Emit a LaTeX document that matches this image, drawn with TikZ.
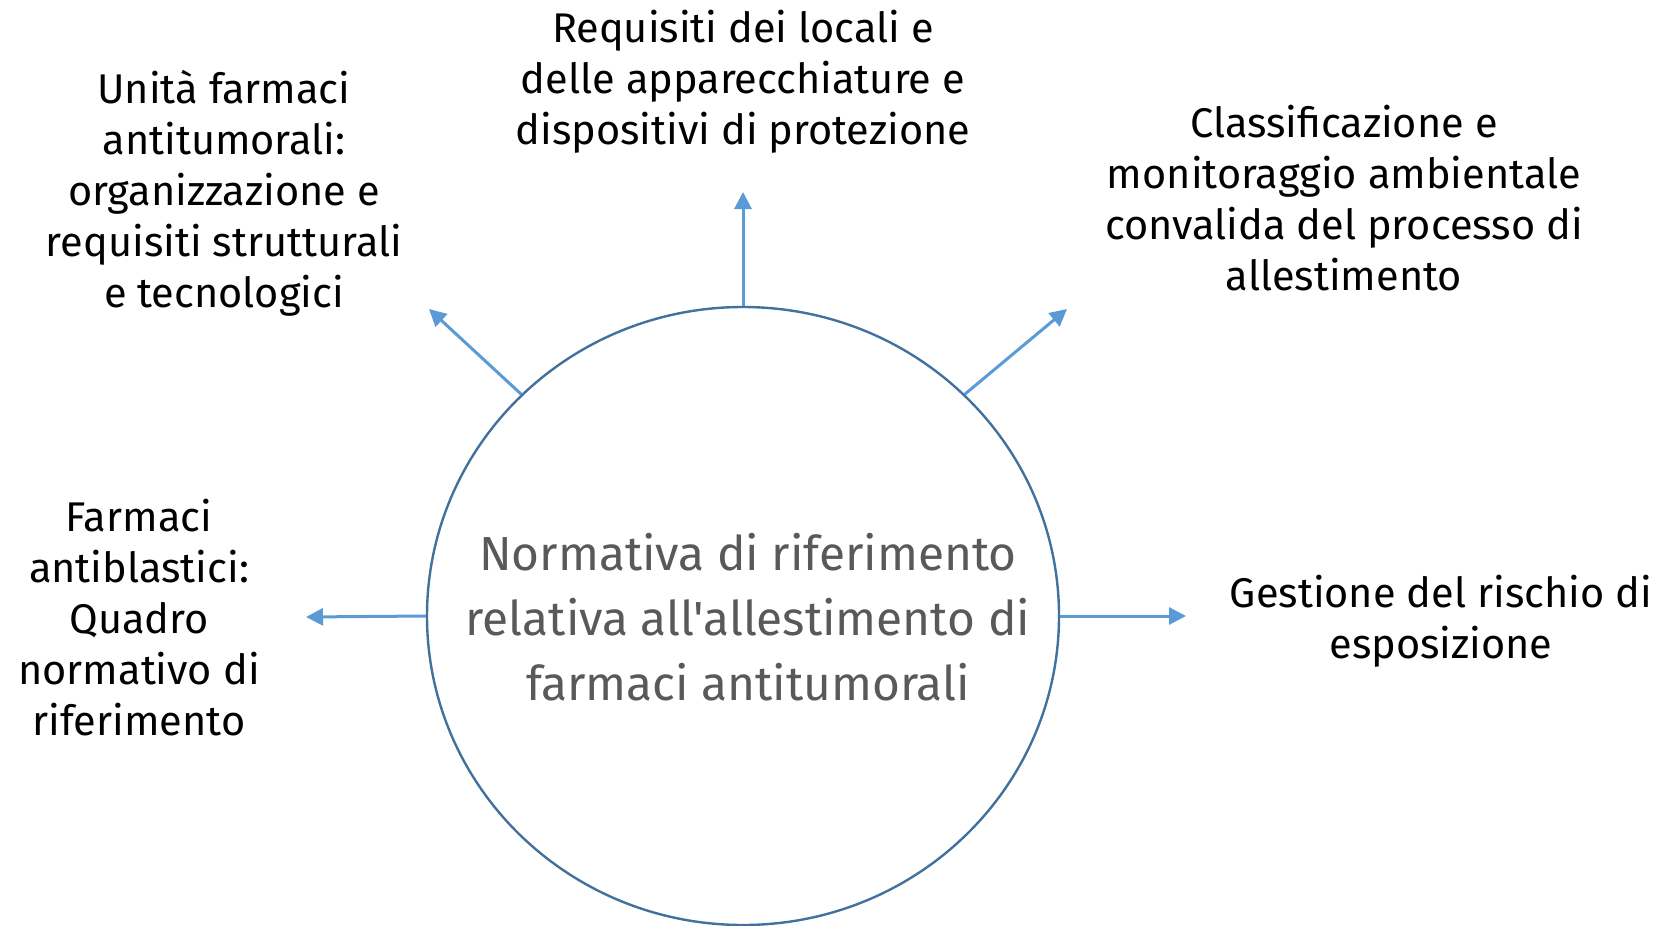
\documentclass[tikz,border=0pt]{standalone}
\usepackage{fontspec}
\setmainfont{Fira Sans}[Ligatures=TeXOff]
\usetikzlibrary{shapes.geometric,arrows.meta}
\definecolor{ringblue}{HTML}{41719C}
\definecolor{arrowblue}{HTML}{5B9BD5}
\definecolor{textgray}{HTML}{595959}
\tikzset{
 topic/.style={align=center,inner sep=0pt,font=\fontsize{41.5}{51}\selectfont},
 link/.style={arrowblue,line width=3pt,-{Triangle[length=17pt,width=17pt]}}
}
\begin{document}
\begin{tikzpicture}[x=1pt,y=-1pt]
\useasboundingbox (0,0) rectangle (1665,926);
\node[ellipse,draw=ringblue,line width=2.4pt,minimum width=632pt,minimum height=618pt,inner sep=0pt] (main) at (743,616) {};
\node[align=center,text=textgray,font=\fontsize{47.8}{65}\selectfont] (title) at (748,617)
 {Normativa di riferimento\\relativa all'allestimento di\\farmaci antitumorali};
% topics round the ring
\node[topic] (locali) at (743,82) {Requisiti dei locali e\\delle apparecchiature e\\dispositivi di protezione};
\node[topic] (unita) at (224,193) {Unità farmaci\\antitumorali:\\organizzazione e\\requisiti strutturali\\e tecnologici};
\node[topic] (classif) at (1344,198) {Classificazione e\\monitoraggio ambientale\\convalida del processo di\\allestimento};
\node[topic] (quadro) at (139,618) {Farmaci\\antiblastici:\\Quadro\\normativo di\\riferimento};
\node[topic] (rischio) at (1441,621) {Gestione del rischio di\\esposizione};
% arrow tips
\coordinate (tlocali) at (743,192);
\coordinate (tunita) at (429,309);
\coordinate (tclassif) at (1067,309);
\coordinate (tquadro) at (306,617);
\coordinate (trischio) at (1186,616);
\foreach \a/\t in {north/tlocali,135/tunita,45/tclassif,west/tquadro,east/trischio}
 \draw[link] (main.\a) -- (\t);
\end{tikzpicture}
\end{document}
